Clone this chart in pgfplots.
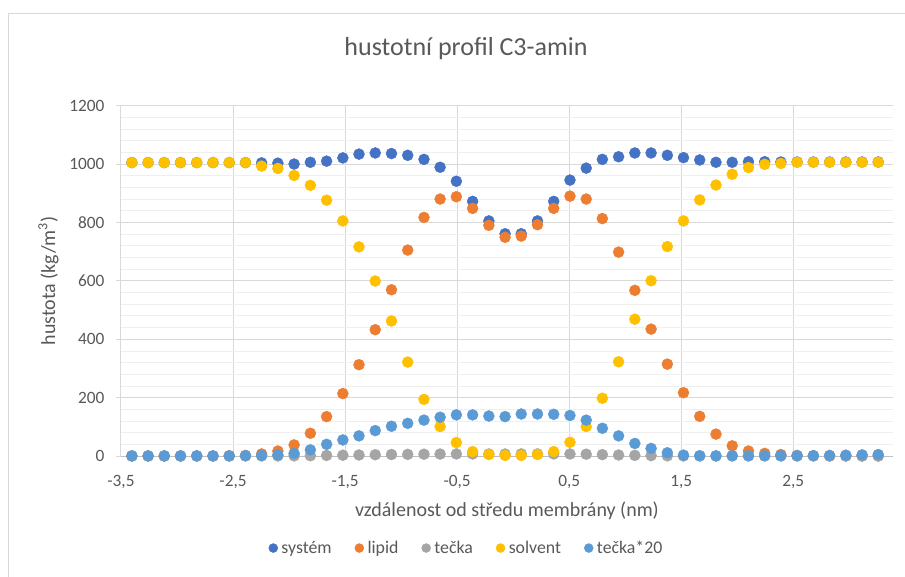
\documentclass[border=0pt]{standalone}
\usepackage{pgfplots}
\pgfplotsset{compat=1.18}
\usepackage{pgfplotstable}
\usepackage{fontspec}
\setmainfont{Carlito}
\definecolor{csys}{HTML}{4472C4}
\definecolor{clip}{HTML}{ED7D31}
\definecolor{ctec}{HTML}{A5A5A5}
\definecolor{csol}{HTML}{FFC000}
\definecolor{ct20}{HTML}{5B9BD5}
\definecolor{txt}{HTML}{595959}
\definecolor{gmaj}{HTML}{D9D9D9}
\definecolor{gmin}{HTML}{EFEFEF}
\definecolor{gaxis}{HTML}{BFBFBF}
\pgfplotstableread{
x sys lip tec sol t20
-3.403 1006 0 0.02 1006 0.5
-3.258 1006 0 0.02 1006 0.5
-3.114 1006 0 0.02 1006 0.5
-2.969 1006 0 0.02 1006 0.5
-2.824 1006 0 0.02 1006 0.5
-2.679 1006 0 0.02 1006 0.5
-2.534 1006 1 0.02 1006 0.5
-2.389 1006 2 0.05 1006 1
-2.245 1005 7 0.10 994 2
-2.100 1004 17 0.20 986 4
-1.955 1001 38 0.45 962 9
-1.810 1007 78 1.05 928 21
-1.665 1011 135 2.00 877 40
-1.520 1022 214 2.75 806 55
-1.376 1035 313 3.45 717 69
-1.231 1039 433 4.35 600 87
-1.086 1037 570 5.10 463 102
-0.941 1031 706 5.60 322 112
-0.796 1017 818 6.15 194 123
-0.652 990 881 6.65 101 133
-0.507 942 889 7.05 46 141
-0.362 873 849 7.05 15 141
-0.217 806 791 6.85 5 137
-0.072 762 750 6.75 2 135
0.072 762 754 7.20 2 144
0.217 806 793 7.20 5 144
0.362 873 849 7.15 15 143
0.507 946 891 6.95 47 139
0.652 987 881 6.15 101 123
0.796 1017 814 4.75 198 95
0.941 1026 699 3.45 323 69
1.086 1039 568 2.15 469 43
1.231 1039 435 1.30 601 26
1.376 1031 315 0.55 718 11
1.520 1023 217 0.15 806 3
1.665 1015 136 0.05 878 1
1.810 1007 75 0.02 929 0.5
1.955 1007 35 0.05 966 1
2.100 1009 17 0.05 989 1
2.245 1009 9 0.05 1000 1
2.389 1008 5 0.05 1003 1
2.534 1008 2 0.05 1007 1
2.679 1008 1 0.05 1007 1
2.824 1008 0 0.10 1007 2
2.969 1008 0 0.15 1007 3
3.114 1008 0 0.20 1007 4
3.258 1008 0 0.25 1007 5
}\datatable
\begin{document}
\begin{tikzpicture}
\useasboundingbox (0,0) rectangle (905pt,576pt);
\fill[white] (0,0) rectangle (905pt,576pt);
\draw[gmaj, line width=1pt] (8pt,562pt) rectangle (930pt,-20pt);
\begin{axis}[
  at={(121pt,120pt)}, anchor=south west,
  width=772pt, height=350pt, scale only axis,
  xmin=-3.5, xmax=3.39, ymin=0, ymax=1200,
  enlargelimits=false,
  axis x line*=bottom, axis y line*=left,
  x axis line style={color=gaxis, line width=1pt},
  y axis line style={color=gmaj, line width=1pt},
  xtick={-3.5,-2.5,-1.5,-0.5,0.5,1.5,2.5},
  xticklabels={{-3,5},{-2,5},{-1,5},{-0,5},{0,5},{1,5},{2,5}},
  ytick={0,200,400,600,800,1000,1200},
  minor y tick num=4,
  xmajorgrids, ymajorgrids, yminorgrids,
  major grid style={gmaj, line width=1pt},
  minor grid style={gmin, line width=1pt},
  xtick style={draw=none},
  ytick style={gmaj, line width=1pt},
  tick align=outside, major tick length=5pt, minor tick length=0pt,
  /pgf/number format/assume math mode=true,
  /pgf/number format/set thousands separator={},
  tick label style={font=\fontsize{17.3}{20}\selectfont, text=txt},
  yticklabel style={xshift=-8pt},
  xticklabel style={yshift=-11pt},
  legend style={at={(0.4475,-0.263)}, anchor=center, draw=none, fill=none,
    legend columns=5, font=\fontsize{17.8}{20}\selectfont, text=txt,
    /tikz/every odd column/.append style={column sep=1.5pt},
    /tikz/every even column/.append style={column sep=21pt}},
  legend image code/.code={\fill[#1] (0pt,0pt) circle (4.5pt);},
]
\addplot[only marks, mark=*, mark size=5.5pt, color=csys] table[x=x, y=sys] {\datatable};
\addlegendentry{systém}
\addplot[only marks, mark=*, mark size=5.5pt, color=clip] table[x=x, y=lip] {\datatable};
\addlegendentry{lipid}
\addplot[only marks, mark=*, mark size=5.5pt, color=ctec] table[x=x, y=tec] {\datatable};
\addlegendentry{tečka}
\addplot[only marks, mark=*, mark size=5.5pt, color=csol] table[x=x, y=sol] {\datatable};
\addlegendentry{solvent}
\addplot[only marks, mark=*, mark size=5.5pt, color=ct20] table[x=x, y=t20] {\datatable};
\addlegendentry{tečka*20}
\end{axis}
\node[anchor=base, text=txt, font=\fontsize{26}{30}\selectfont] at (466pt,520pt) {hustotní profil C3-amin};
\node[anchor=base, text=txt, font=\fontsize{20}{24}\selectfont] at (507pt,60pt) {vzdálenost od středu membrány (nm)};
\node[anchor=base, rotate=90, text=txt, font=\fontsize{20}{24}\selectfont] at (55pt,295pt) {hustota (kg/m\textsuperscript{3})};
\end{tikzpicture}
\end{document}
